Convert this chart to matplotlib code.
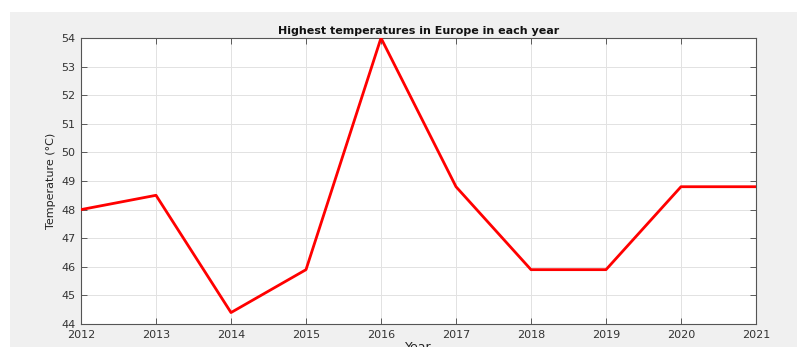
import numpy as np
import matplotlib.pyplot as plt
from matplotlib.patches import Rectangle

# data
years = [2012, 2013, 2014, 2015, 2016, 2017, 2018, 2019, 2020, 2021]
temps = [48.0, 48.5, 44.4, 45.9, 54.0, 48.8, 45.9, 45.9, 48.8, 48.8]
yticks = [44, 45, 46, 47, 48, 49, 50, 51, 52, 53, 54]

fig = plt.figure(figsize=(8.04, 3.47), dpi=100)
fig.patch.set_facecolor('white')

# matlab-ish grey panel behind the axes
fig.patches.append(Rectangle((10/804, 0), 787/804, 1 - 12/347,
                             transform=fig.transFigure, facecolor='#f0f0f0',
                             edgecolor='none', zorder=-5))

ax = fig.add_axes([81/804, 1 - 324/347, 675/804, 286/347])
ax.set_facecolor('white')
ax.plot(years, temps, color='#ff0000', lw=2, zorder=3)

ax.set_xlim(2012, 2021)
ax.set_ylim(44, 54)
ax.set_xticks(years)
ax.set_yticks(yticks)
ax.tick_params(direction='in', length=4, width=0.6, color='#444444',
               labelsize=8, labelcolor='#333333', top=True, right=True)
ax.tick_params(axis='x', pad=4)
ax.tick_params(axis='y', pad=4)
ax.grid(True, color='#e2e2e2', lw=0.7)
for s in ax.spines.values():
    s.set_color('#555555')
    s.set_linewidth(0.8)

ax.set_title('Highest temperatures in Europe in each year', fontsize=8,
             fontweight='bold', color='#111111', pad=3)
ax.set_ylabel('Temperature (°C)', fontsize=8, color='#222222', labelpad=4)
ax.set_xlabel('Year', fontsize=9, color='#222222', labelpad=1)

fig.savefig('out.png', dpi=100)
